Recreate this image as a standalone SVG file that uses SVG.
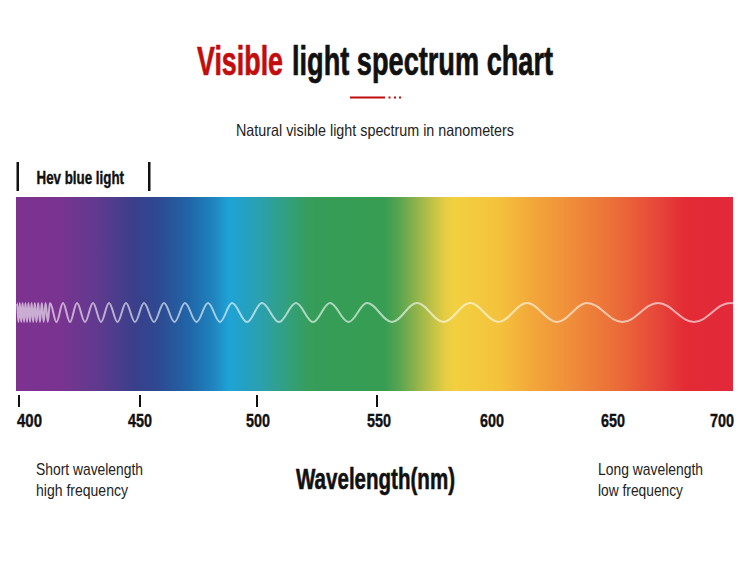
<svg xmlns="http://www.w3.org/2000/svg" width="750" height="564" viewBox="0 0 750 564">
<style>
.cond{font-family:"Liberation Sans",Arial,sans-serif}
.b{font-weight:bold}
.heavy{stroke-width:0.7;stroke-linejoin:round}
.tick{fill:#111}
.ax{font-family:"Liberation Sans",Arial,sans-serif;font-weight:bold;font-size:19px;fill:#111;stroke:#111;stroke-width:0.4}
.note{font-family:"Liberation Sans",Arial,sans-serif;font-size:17px;fill:#222}
</style>
<defs>
<linearGradient id="spec" x1="16" y1="0" x2="733" y2="0" gradientUnits="userSpaceOnUse">
<stop offset="0" stop-color="#7d3290"/>
<stop offset="0.06" stop-color="#7a3390"/>
<stop offset="0.116" stop-color="#5e3a8e"/>
<stop offset="0.165" stop-color="#3a3f8a"/>
<stop offset="0.2" stop-color="#2d4a92"/>
<stop offset="0.242" stop-color="#2066a8"/>
<stop offset="0.277" stop-color="#1f86c0"/>
<stop offset="0.297" stop-color="#1ea3d6"/>
<stop offset="0.339" stop-color="#2aa0b0"/>
<stop offset="0.381" stop-color="#33a07a"/>
<stop offset="0.409" stop-color="#369d5a"/>
<stop offset="0.514" stop-color="#369d52"/>
<stop offset="0.535" stop-color="#5aa550"/>
<stop offset="0.563" stop-color="#9bb64a"/>
<stop offset="0.598" stop-color="#e5cd42"/>
<stop offset="0.612" stop-color="#f2d040"/>
<stop offset="0.675" stop-color="#f4c23c"/>
<stop offset="0.716" stop-color="#f3a93a"/>
<stop offset="0.779" stop-color="#ef8b3a"/>
<stop offset="0.842" stop-color="#ea6a38"/>
<stop offset="0.898" stop-color="#e6443a"/>
<stop offset="0.933" stop-color="#e32b35"/>
<stop offset="1" stop-color="#e2283a"/>
</linearGradient>
<clipPath id="clipSpec"><rect x="16" y="197" width="717" height="194"/></clipPath>
</defs>
<rect width="750" height="564" fill="#ffffff"/>

<g id="title">
<text class="cond b heavy" transform="translate(197 75) scale(0.67 1)" x="0" y="0" font-size="40" fill="#c20d0d" stroke="#c20d0d" textLength="128.4" lengthAdjust="spacingAndGlyphs">Visible</text>
<text class="cond b heavy" transform="translate(292 75) scale(0.67 1)" x="0" y="0" font-size="40" fill="#111" stroke="#111" textLength="389.6" lengthAdjust="spacingAndGlyphs">light spectrum chart</text>
<rect x="350" y="96.5" width="35" height="2" fill="#c20d0d"/>
<rect x="388.5" y="96.5" width="2" height="2" fill="#c20d0d"/>
<rect x="394" y="96.5" width="2" height="2" fill="#c20d0d"/>
<rect x="399" y="96.5" width="2" height="2" fill="#c20d0d"/>
</g>

<g id="subtitle">
<text class="cond" x="236" y="136" font-size="16.5" fill="#222" textLength="278" lengthAdjust="spacingAndGlyphs">Natural visible light spectrum in nanometers</text>
</g>

<g id="hev">
<rect x="16.5" y="162" width="2.5" height="29" fill="#111"/>
<rect x="148" y="162" width="2.5" height="29" fill="#111"/>
<text class="cond b" x="36.5" y="184" font-size="17.5" fill="#111" stroke="#111" stroke-width="0.4" textLength="87.5" lengthAdjust="spacingAndGlyphs">Hev blue light</text>
</g>

<g id="spectrum">
<rect x="16" y="197" width="717" height="194" fill="url(#spec)"/>
<path clip-path="url(#clipSpec)" fill="none" stroke="#ffffff" stroke-opacity="0.6" stroke-width="2" d="M17 303
C17.5 303 17.9 322 18.4 322 C18.9 322 19.3 303 19.8 303
C20.3 303 20.7 322 21.2 322 C21.7 322 22.1 303 22.6 303
C23.1 303 23.5 322 24.05 322 C24.6 322 25 303 25.5 303
C26.05 303 26.45 322 27 322 C27.55 322 27.95 303 28.5 303
C29.06 303 29.49 322 30.05 322 C30.61 322 31.04 303 31.6 303
C32.18 303 32.62 322 33.2 322 C33.78 322 34.22 303 34.8 303
C35.42 303 35.88 322 36.5 322 C37.12 322 37.58 303 38.2 303
C38.86 303 39.34 322 40 322 C40.66 322 41.14 303 41.8 303
C42.49 303 43.01 322 43.7 322 C44.39 322 44.91 303 45.6 303
C46.4 303 47 322 47.8 322 C48.6 322 49.2 303 50 303
C52.37 303 54.13 322 56.5 322 C58.87 322 60.63 303 63 303
C65.55 303 67.45 322 70 322 C72.55 322 74.45 303 77 303
C79.91 303 82.09 322 85 322 C87.91 322 90.09 303 93 303
C95.91 303 98.09 322 101 322 C103.91 322 106.09 303 109 303
C112.09 303 114.41 322 117.5 322 C120.59 322 122.91 303 126 303
C129.28 303 131.72 322 135 322 C138.28 322 140.72 303 144 303
C147.64 303 150.36 322 154 322 C157.64 322 160.36 303 164 303
C167.82 303 170.68 322 174.5 322 C178.32 322 181.18 303 185 303
C189.19 303 192.31 322 196.5 322 C200.69 322 203.81 303 208 303
C212.37 303 215.63 322 220 322 C224.37 322 227.63 303 232 303
C237.46 303 241.54 322 247 322 C252.46 322 256.54 303 262 303
C268.19 303 272.81 322 279 322 C285.19 322 289.81 303 296 303
C302.19 303 306.81 322 313 322 C319.19 322 323.81 303 330 303
C336.73 303 341.77 322 348.5 322 C355.23 322 360.27 303 367 303
C376.1 303 382.9 322 392 322 C401.1 322 407.9 303 417 303
C426.65 303 433.85 322 443.5 322 C453.15 322 460.35 303 470 303
C480.37 303 488.13 322 498.5 322 C508.87 322 516.63 303 527 303
C537.92 303 546.08 322 557 322 C567.92 322 576.08 303 587 303
C599.92 303 609.58 322 622.5 322 C635.42 322 645.08 303 658 303
C671.1 303 680.9 322 694 322 C707.1 322 716.9 303 730 303
C743.1 303 752.9 322 766 322"/>
</g>

<g id="axis">
<rect class="tick" x="18" y="395" width="2" height="12"/>
<rect class="tick" x="139" y="395" width="2" height="12"/>
<rect class="tick" x="256" y="395" width="2" height="12"/>
<rect class="tick" x="376" y="395" width="2" height="12"/>
<text class="ax" x="17" y="427" textLength="25" lengthAdjust="spacingAndGlyphs">400</text>
<text class="ax" x="128" y="427" textLength="24" lengthAdjust="spacingAndGlyphs">450</text>
<text class="ax" x="246" y="427" textLength="24" lengthAdjust="spacingAndGlyphs">500</text>
<text class="ax" x="367" y="427" textLength="24" lengthAdjust="spacingAndGlyphs">550</text>
<text class="ax" x="480" y="427" textLength="24" lengthAdjust="spacingAndGlyphs">600</text>
<text class="ax" x="601" y="427" textLength="24" lengthAdjust="spacingAndGlyphs">650</text>
<text class="ax" x="710" y="427" textLength="24" lengthAdjust="spacingAndGlyphs">700</text>
</g>

<g id="short-label">
<text class="note" x="36" y="475" textLength="107" lengthAdjust="spacingAndGlyphs">Short wavelength</text>
<text class="note" x="36" y="496" textLength="92" lengthAdjust="spacingAndGlyphs">high frequency</text>
</g>

<g id="axis-title">
<text class="cond b" x="296" y="489" font-size="30" fill="#111" stroke="#111" stroke-width="0.6" textLength="159" lengthAdjust="spacingAndGlyphs">Wavelength(nm)</text>
</g>

<g id="long-label">
<text class="note" x="598" y="475" textLength="105" lengthAdjust="spacingAndGlyphs">Long wavelength</text>
<text class="note" x="598" y="496" textLength="85" lengthAdjust="spacingAndGlyphs">low frequency</text>
</g>
</svg>
